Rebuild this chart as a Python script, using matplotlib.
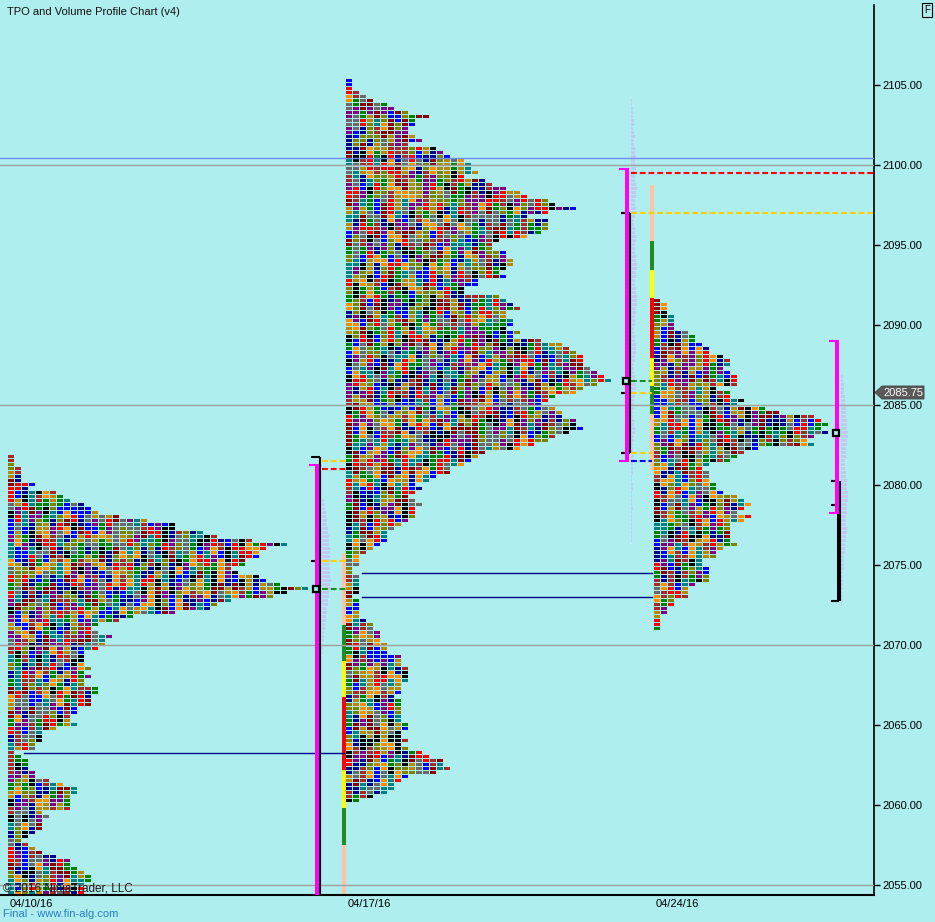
import numpy as np
import matplotlib
matplotlib.use("Agg")
import matplotlib.pyplot as plt
from matplotlib.patches import Polygon

plt.rcParams['font.family'] = ['Liberation Sans', 'DejaVu Sans']

# ---------------- data ----------------
TICK = 0.25

# TPO counts per price row (top row first), one profile per week
w1_top = 2081.75
w1_counts = [1, 1, 1, 2, 2, 2, 2, 4, 3, 7,
             8, 9, 11, 12, 13, 16, 20, 24, 24, 28,
             30, 35, 40, 37, 36, 36, 34, 34, 32, 33,
             36, 37, 39, 43, 40, 38, 32, 30, 29, 24,
             18, 16, 13, 12, 13, 15, 14, 14, 13, 11,
             11, 11, 11, 12, 11, 12, 11, 11, 13, 13,
             12, 12, 12, 10, 10, 9, 9, 10, 7, 5,
             5, 5, 4, 4, 1, 2, 3, 3, 3, 4,
             4, 6, 8, 10, 10, 9, 9, 9, 9, 5,
             6, 5, 5, 5, 4, 3, 2, 3, 4, 5,
             7, 9, 9, 10, 11, 12, 12, 11, 11, 11]

w2_top = 2105.25
w2_counts = [1, 1, 1, 2, 3, 4, 6, 7, 9, 12,
             10, 10, 9, 9, 10, 11, 9, 13, 14, 15,
             17, 18, 18, 19, 17, 20, 21, 23, 25, 26,
             29, 30, 33, 29, 26, 29, 29, 29, 28, 26,
             22, 21, 21, 23, 23, 24, 24, 23, 22, 23,
             19, 19, 17, 17, 22, 23, 24, 25, 23, 23,
             24, 24, 23, 25, 24, 28, 31, 32, 33, 34,
             34, 34, 35, 36, 37, 38, 36, 34, 33, 30,
             29, 28, 30, 31, 31, 33, 33, 34, 32, 30,
             29, 27, 25, 20, 19, 18, 17, 15, 15,
             13, 12, 10, 11, 10, 9, 10, 11, 10, 10,
             10, 9, 8, 7, 6, 6, 6, 5, 4, 3,
             2, 2, 2, 1, 1, 2, 2, 2, 2, 2,
             1, 2, 2, 2, 2, 2, 3, 4, 4, 5,
             5, 5, 6, 6, 6, 8, 8, 8, 9, 9,
             9, 9, 8, 8, 8, 7, 8, 8, 8, 8,
             8, 8, 9, 9, 8, 8, 9, 8, 9, 11,
             12, 14, 14, 15,
             13, 9, 8, 7, 7, 6, 4, 2]

w3_top = 2091.5
w3_counts = [1, 2, 2, 2, 3, 3, 3, 3, 5, 6,
             6, 7, 8, 8, 10, 11, 11, 10, 11, 12,
             12, 12, 9, 11, 11, 13, 12, 16, 18, 23,
             24, 25, 24, 25, 23, 22, 23, 15, 13, 12,
             11, 8, 7, 8, 8, 8, 9, 9, 10, 12,
             13, 14, 13, 12, 14, 13, 11, 11, 11, 11,
             11, 12, 10, 9, 9, 7, 7, 8, 8, 8,
             8, 6, 5, 5, 5, 3, 3, 2, 2, 1,
             1, 1, 1]

# faint volume profiles (bar lengths, top row first)
vol1_top = 2079.0
vol1_len = [2, 3, 3, 4, 4, 5, 5, 6, 6, 7, 7, 7, 8, 8, 8, 8, 7, 8, 8, 8,
            9, 8, 8, 7, 7, 6, 6, 5, 5, 4, 4, 3, 3, 2, 2, 2, 1, 1, 1]
vol2_top = 2104.0
vol2_len = [1, 1, 2, 2, 2, 3, 3, 2, 3, 4, 3, 3, 4, 4, 5, 4, 4, 5, 5, 4,
            4, 5, 6, 5, 5, 4, 4, 5, 5, 4, 3, 3, 4, 4, 5, 5, 4, 4, 4, 5,
            5, 6, 6, 5, 5, 4, 4, 5, 5, 6, 6, 6, 5, 5, 4, 4, 4, 3, 3, 4,
            4, 5, 5, 5, 4, 4, 3, 3, 3, 4, 4, 5, 5, 4, 4, 3, 3, 3, 2, 2,
            3, 3, 4, 4, 3, 3, 2, 2, 2, 3, 3, 2, 2, 2, 1, 1, 2, 2, 1, 1,
            1, 1, 2, 1, 1, 1, 1, 1, 1, 1, 1]
vol3_top = 2086.75
vol3_len = [2, 2, 3, 3, 3, 4, 4, 4, 5, 5, 5, 6, 6, 6, 7, 7, 6, 6, 5, 5,
            5, 4, 4, 4, 5, 5, 6, 6, 6, 7, 7, 7, 6, 6, 6, 5, 5, 5, 6, 6,
            5, 5, 4, 4, 4, 3, 3, 3, 3, 2, 2, 2, 2, 2, 1, 1, 1, 1]

# colour strips (segment boundaries top->bottom, colours)
strip2_bounds = [2075.72, 2071.22, 2068.97, 2066.72, 2062.16, 2059.78, 2057.47, 2054.0]
strip3_bounds = [2098.7, 2095.2, 2093.4, 2091.65, 2087.9, 2086.15, 2084.4, 2080.9]
strip_colors = ['#FFC4A6', '#228B22', '#FFFF00', '#FF0000', '#FFFF00', '#228B22', '#FFC4A6']

# levels
grey_levels = [2100.0, 2085.0, 2070.0, 2055.0]
blue_level = 2100.4
navy_levels = [2063.25, 2074.5, 2073.0]
w1_dash_levels = [2081.5, 2081.0, 2075.25, 2073.5]
w1_dash_colors = ['#FFD000', '#FF0000', '#FFD000', '#228B22']
w2_dash_levels = [2099.5, 2097.0, 2086.5, 2085.75, 2082.0, 2081.5]
w2_dash_colors = ['#FF0000', '#FFD000', '#228B22', '#FFD000', '#FFD000', '#0000FF']

# range bars: (magenta top, magenta bottom, black top, black bottom, black ticks, poc)
w1_range = (2081.25, 2053.0, 2081.75, 2053.0, [2075.25], 2073.5)
w2_range = (2099.75, 2081.5, 2097.0, 2082.0, [2097.0, 2085.75, 2082.0], 2086.5)
w3_range = (2089.0, 2078.25, 2080.25, 2072.75, [2080.25, 2078.75], 2083.25)

y_ticks = [2055, 2060, 2065, 2070, 2075, 2080, 2085, 2090, 2095, 2100, 2105]
x_labels = ['04/10/16', '04/17/16', '04/24/16']
last_price = 2085.75

# ---------------- style / layout ----------------
BG = '#AFEEEE'
palette = ['#00008B', '#0000FF', '#8B0000', '#A52A2A', '#FF0000', '#FF8C00',
           '#808000', '#B8860B', '#008000', '#008080', '#000000', '#696969', '#800080']
STEP, BW = 7, 6
BH = 3 / 16.0
prof_x0 = [8, 346, 654]

fig = plt.figure(figsize=(9.35, 9.22), dpi=100, facecolor=BG)
ax = fig.add_axes([0, 27 / 922, 874 / 935, 890 / 922])
ax.set_facecolor(BG)
ax.set_xlim(0, 874)
ax.set_ylim(2054.34375, 2109.96875)


def cidx(pid, r, c):
    # deterministic colour choice per TPO cell (styling only)
    seed = pid * 1000003 + c * 7919 + ((r + c * 3) // 2) * 104729
    h = (seed * 2654435761 + 12345) % (2 ** 32)
    h ^= h >> 15
    h = (h * 2246822519) % (2 ** 32)
    h ^= h >> 13
    return h % len(palette)


for pid, (top, counts) in enumerate([(w1_top, w1_counts), (w2_top, w2_counts), (w3_top, w3_counts)]):
    ys, xs, cs = [], [], []
    for r, n in enumerate(counts):
        p = top - r * TICK
        for c in range(n):
            ys.append(p)
            xs.append(prof_x0[pid] + c * STEP)
            cs.append(palette[cidx(pid, r, c)])
    ax.barh(ys, BW, left=xs, height=BH, color=cs, linewidth=0, antialiased=False, zorder=2)

# faint volume profiles
LAV = '#C2C8F4'
for top, lens, x0 in [(vol1_top, vol1_len, 322), (vol2_top, vol2_len, 631), (vol3_top, vol3_len, 841)]:
    ys = [top - i * TICK for i in range(len(lens))]
    ax.barh(ys, lens, left=x0, height=BH, color=LAV, linewidth=0, antialiased=False, zorder=1.5)

# colour strips
for xc, bounds in [(344, strip2_bounds), (652, strip3_bounds)]:
    tops = np.array(bounds[:-1])
    bots = np.array(bounds[1:])
    ax.bar([xc] * len(tops), tops - bots, bottom=bots, width=4, color=strip_colors,
           linewidth=0, antialiased=False, zorder=2)

# horizontal levels
for p in grey_levels:
    ax.axhline(p, color='#A0A0A0', lw=1.0, zorder=4)
ax.axhline(blue_level, color='#6F8FEF', lw=1.0, zorder=4)
ax.plot([24, 344], [navy_levels[0]] * 2, color='#00008B', lw=1.0, zorder=4)
ax.plot([362, 652], [navy_levels[1]] * 2, color='#00008B', lw=1.0, zorder=4)
ax.plot([362, 652], [navy_levels[2]] * 2, color='#00008B', lw=1.0, zorder=4)

dash = (0, (2.8, 1.4))
for p, col in zip(w1_dash_levels, w1_dash_colors):
    ax.plot([322, 346], [p, p], color=col, lw=1.5, linestyle=dash, zorder=4)
for i, (p, col) in enumerate(zip(w2_dash_levels, w2_dash_colors)):
    x1 = 874 if i < 2 else 652
    ax.plot([631, x1], [p, p], color=col, lw=1.5, linestyle=dash, zorder=4)


# range bars
def range_bar(rng, xm, xb, capm, capb, black_lw):
    mt, mb, bt, bb, ticks, poc = rng
    ax.plot([xb, xb], [bt, bb], color='black', lw=black_lw, solid_capstyle='butt', zorder=5)
    ax.plot([capb, xb], [bt, bt], color='black', lw=1.5, solid_capstyle='butt', zorder=5)
    ax.plot([capb, xb], [bb, bb], color='black', lw=1.5, solid_capstyle='butt', zorder=5)
    for t in ticks:
        ax.plot([capb, xm], [t, t], color='black', lw=1.5, solid_capstyle='butt', zorder=5)
    ax.plot([xm, xm], [mt, mb], color='#FF00FF', lw=2.9, solid_capstyle='butt', zorder=5)
    ax.plot([capm, xm + 2], [mt, mt], color='#FF00FF', lw=1.5, solid_capstyle='butt', zorder=5)
    ax.plot([capm, xm + 2], [mb, mb], color='#FF00FF', lw=1.5, solid_capstyle='butt', zorder=5)
    ax.plot([xm - 1], [poc], marker='s', ms=5, mfc=BG, mec='black', mew=1.6, zorder=6)


range_bar(w1_range, 317, 320, 309, 311, 1.5)
range_bar(w2_range, 627, 630, 619, 621, 1.5)
range_bar(w3_range, 837, 839, 829, 831, 2.9)

# axes styling
for s in ['top', 'left']:
    ax.spines[s].set_visible(False)
ax.spines['right'].set_linewidth(1.2)
ax.spines['bottom'].set_linewidth(1.5)
ax.yaxis.tick_right()
ax.set_yticks(y_ticks)
ax.set_yticklabels([f'{v:.2f}' for v in y_ticks])
ax.tick_params(axis='y', length=4.5, width=1, pad=1.5, labelsize=8, colors='black')
ax.set_xticks([31, 369, 677])
ax.set_xticklabels(x_labels)
ax.tick_params(axis='x', length=0, pad=3, labelsize=8)

# last price tag
hh = 6.5 / 16
tag = Polygon([(875, last_price), (882, last_price + hh), (924, last_price + hh),
               (924, last_price - hh), (882, last_price - hh)], closed=True,
              facecolor='#5A5A5A', edgecolor='#404040', lw=0.6, clip_on=False, zorder=7)
ax.add_patch(tag)
ax.text(903, last_price, f'{last_price:.2f}', color='white', fontsize=8, ha='center',
        va='center', clip_on=False, zorder=8)

# texts
fig.text(7 / 935, 1 - 12 / 922, 'TPO and Volume Profile Chart (v4)', fontsize=8,
         va='center', ha='left', color='#111111')
fig.text(3 / 935, 1 - 889 / 922, '\u00a9 2016 NinjaTrader, LLC', fontsize=8.5,
         va='center', ha='left', color='#1a1a1a', zorder=10)
fig.text(3 / 935, 1 - 914 / 922, 'Final - www.fin-alg.com', fontsize=8,
         va='center', ha='left', color='#2A7CC7')
fig.text(927 / 935, 1 - 10 / 922, 'F', fontsize=7, va='center', ha='center',
         bbox=dict(boxstyle='square,pad=0.2', fc='none', ec='black', lw=0.8))

fig.savefig('out.png', dpi=100, facecolor=BG)
